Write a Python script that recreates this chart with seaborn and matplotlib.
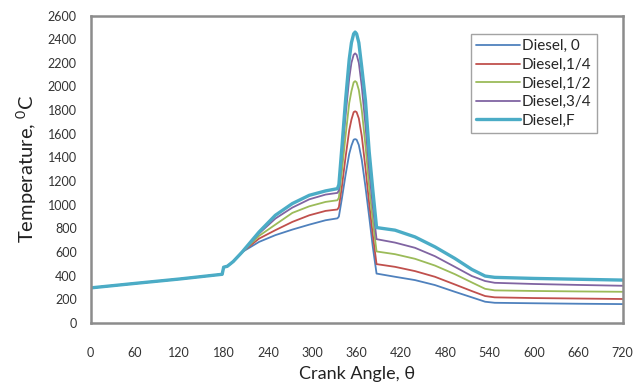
import numpy as np
import pandas as pd
import matplotlib
matplotlib.use("Agg")
import matplotlib.pyplot as plt
import seaborn as sns

sns.set_theme(style="white")
plt.rcParams['font.family'] = ['Lato', 'DejaVu Sans']
plt.rcParams['mathtext.default'] = 'regular'

# crank angle grid shared by all loads
angle = [0, 60, 120, 178, 180, 185, 193, 205, 228, 250, 273, 296, 318, 334,
         336, 340, 345, 350, 353, 356, 358, 360, 363, 367, 372, 377, 382, 387,
         412, 439, 466, 493, 516, 534, 547, 600, 660, 720]

# common intake part (0..205)
intake = [297, 335, 372, 412, 472, 480, 520, 600]

t_0 = intake + [686, 743, 790, 832, 869, 885,
                900, 1050, 1250, 1430, 1500, 1550, 1555, 1550, 1505, 1380, 1150, 900, 640, 418,
                391, 363, 321, 264, 217, 180, 171, 167, 163, 160]
t_14 = intake + [714, 785, 855, 911, 948, 960,
                 980, 1150, 1400, 1630, 1720, 1783, 1790, 1783, 1730, 1580, 1310, 1010, 740, 498,
                 475, 439, 391, 326, 270, 228, 217, 211, 207, 203]
t_12 = intake + [737, 832, 931, 987, 1024, 1038,
                 1060, 1280, 1580, 1860, 1960, 2035, 2045, 2035, 1970, 1800, 1500, 1150, 860, 605,
                 582, 543, 486, 413, 343, 289, 276, 271, 267, 264]
t_34 = intake + [757, 883, 976, 1046, 1086, 1100,
                 1120, 1400, 1750, 2070, 2200, 2268, 2280, 2268, 2200, 2000, 1670, 1290, 980, 709,
                 680, 636, 565, 475, 397, 355, 340, 330, 322, 315]
t_f = intake + [770, 911, 1010, 1080, 1117, 1136,
                1170, 1480, 1880, 2230, 2370, 2445, 2460, 2445, 2370, 2160, 1880, 1450, 1120, 807,
                785, 728, 644, 546, 453, 397, 386, 377, 370, 363]

labels = ['Diesel, 0', 'Diesel,1/4', 'Diesel,1/2', 'Diesel,3/4', 'Diesel,F']
series = [t_0, t_14, t_12, t_34, t_f]
colors = ['#4F81BD', '#C0504D', '#9BBB59', '#8064A2', '#4BACC6']
widths = [1.3, 1.3, 1.3, 1.3, 2.4]

df = pd.concat([pd.DataFrame({'angle': angle, 'temp': s, 'load': lab})
                for s, lab in zip(series, labels)], ignore_index=True)

fig = plt.figure(figsize=(6.4, 3.85), dpi=100)
ax = fig.add_axes([0.1417, 0.161, 0.831, 0.7987])

for lab, col, lw in zip(labels, colors, widths):
    d = df[df['load'] == lab]
    sns.lineplot(data=d, x='angle', y='temp', color=col, linewidth=lw,
                 label=lab, ax=ax, sort=False)

ax.set_xlim(0, 720)
ax.set_ylim(0, 2600)
ax.set_xticks(range(0, 721, 60))
ax.set_yticks(range(0, 2601, 200))
ax.tick_params(axis='x', length=0, pad=17, labelsize=9, colors='#333333')
ax.tick_params(axis='y', length=0, pad=10, labelsize=9, colors='#333333')
for sp in ax.spines.values():
    sp.set_color('#8c8c8c')
    sp.set_linewidth(1.8)

ax.set_xlabel('Crank Angle, θ', fontsize=13, color='#222222', labelpad=5)
ax.set_ylabel('Temperature, $^{0}$C', fontsize=14.5, color='#222222', labelpad=6)

leg = ax.legend(loc='upper right', bbox_to_anchor=(0.952, 0.94), fontsize=11,
                frameon=True, fancybox=False, handlelength=2.9, handletextpad=0.1,
                borderpad=0.35, labelspacing=0.3, borderaxespad=0)
leg.get_frame().set_edgecolor('#8c8c8c')
leg.get_frame().set_linewidth(1.0)

fig.savefig('out.png', dpi=100)
